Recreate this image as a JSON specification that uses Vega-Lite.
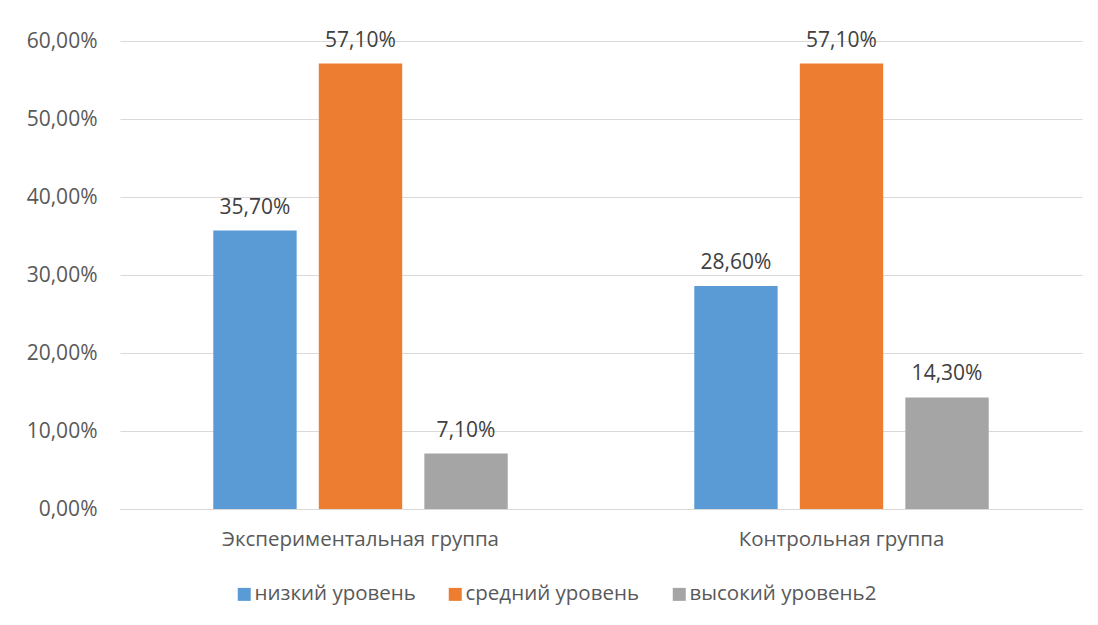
{
  "$schema": "https://vega.github.io/schema/vega-lite/v6.json",
  "autosize": {"type": "none"},
  "width": 962,
  "height": 468,
  "padding": {"left": 120, "top": 41, "right": 16, "bottom": 116},
  "background": "white",
  "config": {
    "locale": {"number": {"decimal": ",", "thousands": " ", "grouping": [3], "currency": ["", " ₽"]}},
    "font": "Open Sans",
    "view": {"stroke": null}
  },
  "data": {
    "values": [
      {"group": "Экспериментальная группа", "level": "низкий уровень", "value": 0.357},
      {"group": "Экспериментальная группа", "level": "средний уровень", "value": 0.571},
      {"group": "Экспериментальная группа", "level": "высокий уровень2", "value": 0.071},
      {"group": "Контрольная группа", "level": "низкий уровень", "value": 0.286},
      {"group": "Контрольная группа", "level": "средний уровень", "value": 0.571},
      {"group": "Контрольная группа", "level": "высокий уровень2", "value": 0.143}
    ]
  },
  "encoding": {
    "x": {
      "field": "group", "type": "nominal", "sort": null,
      "scale": {"paddingInner": 0.344, "paddingOuter": 0.172},
      "axis": {"title": null, "labelAngle": 0, "ticks": false, "domainColor": "#d9d9d9", "domainWidth": 1,
               "labelFont": "Open Sans", "labelFontSize": 20.5, "labelColor": "#595959", "labelPadding": 20, "labelLimit": 400}
    },
    "xOffset": {
      "field": "level", "type": "nominal",
      "sort": ["низкий уровень", "средний уровень", "высокий уровень2"],
      "scale": {"paddingInner": 0.21, "paddingOuter": 0.1}
    },
    "y": {
      "field": "value", "type": "quantitative",
      "scale": {"domain": [0, 0.6], "nice": false},
      "axis": {"title": null, "format": ".2%", "values": [0, 0.1, 0.2, 0.3, 0.4, 0.5, 0.6],
               "domain": false, "ticks": false, "gridColor": "#d9d9d9", "gridWidth": 1,
               "labelFont": "Open Sans", "labelFontSize": 21, "labelColor": "#595959", "labelPadding": 23}
    }
  },
  "layer": [
    {
      "mark": {"type": "bar"},
      "encoding": {
        "color": {
          "field": "level", "type": "nominal",
          "sort": ["низкий уровень", "средний уровень", "высокий уровень2"],
          "scale": {"domain": ["низкий уровень", "средний уровень", "высокий уровень2"], "range": ["#5B9BD5", "#ED7D31", "#A5A5A5"]},
          "legend": {"title": null, "orient": "none", "legendX": 114, "legendY": 543, "direction": "horizontal", "symbolType": "square", "symbolSize": 169,
                     "symbolStrokeWidth": 0, "labelFont": "Open Sans", "labelFontSize": 20.5, "labelColor": "#595959",
                     "columnPadding": 29, "labelOffset": 0, "labelLimit": 400}
        }
      }
    },
    {
      "mark": {"type": "text", "baseline": "alphabetic", "dy": -17, "font": "Open Sans", "fontSize": 21, "color": "#404040"},
      "encoding": {
        "text": {"field": "value", "type": "quantitative", "format": ".2%"}
      }
    }
  ]
}
